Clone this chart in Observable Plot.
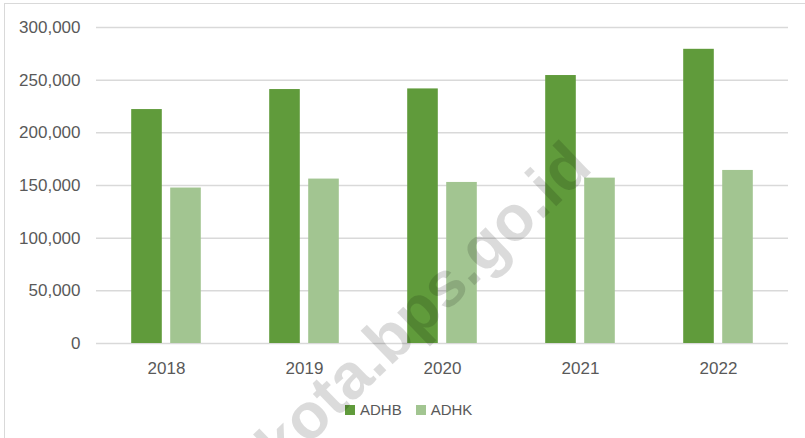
<!DOCTYPE html>
<html><head><meta charset="utf-8">
<script src="https://cdn.jsdelivr.net/npm/d3@7"></script>
<script src="https://cdn.jsdelivr.net/npm/@observablehq/plot@0.6"></script>
<style>
body{margin:0;background:#fff;font-family:"Liberation Sans",Arial,sans-serif;}
#wrap{position:relative;width:805px;height:438px;overflow:hidden;background:#fff;}
#box{position:absolute;left:4px;top:3px;width:820px;height:460px;border:1.5px solid #d9d9d9;box-sizing:border-box;}
#chart{position:absolute;left:0;top:0;}
#legend{position:absolute;left:345px;top:401px;display:flex;align-items:center;font-size:15px;color:#595959;}
#legend .item{display:flex;align-items:center;margin-right:14px;}
#legend .sw{width:10px;height:10px;margin-right:5px;}
#wm{position:absolute;left:0;top:0;pointer-events:none;}
</style>
</head><body>
<div id="wrap">
  <div id="box"></div>
  <div id="chart"></div>
  <div id="legend"></div>
  <svg id="wm" width="805" height="438"><text x="282" y="471" transform="rotate(-44 282 471)" font-family="Liberation Sans, Arial, sans-serif" font-weight="bold" font-size="64" fill="rgba(0,0,0,0.14)">kota.bps.go.id</text></svg>
</div>
<script>
const years = ["2018", "2019", "2020", "2021", "2022"];
const adhb = [222100, 241100, 241700, 254400, 279300];
const adhk = [147600, 156100, 152900, 157000, 164300];
const seriesNames = ["ADHB", "ADHK"];
const seriesColors = ["#609b3b", "#a2c591"];
const yTicks = [0, 50000, 100000, 150000, 200000, 250000, 300000];

const rowsB = years.map((y, i) => ({year: y, series: seriesNames[0], value: adhb[i]}));
const rowsK = years.map((y, i) => ({year: y, series: seriesNames[1], value: adhk[i]}));

const chart = Plot.plot({
  width: 805,
  height: 390,
  marginTop: 27,
  marginBottom: 47,
  marginLeft: 96,
  marginRight: 17,
  style: {fontFamily: "'Liberation Sans', Arial, sans-serif", fontSize: "17px", color: "#595959", background: "transparent"},
  x: {domain: years, padding: 0, label: null},
  y: {domain: [0, 300000], label: null},
  color: {domain: seriesNames, range: seriesColors},
  marks: [
    Plot.gridY(yTicks, {stroke: "#d9d9d9", strokeOpacity: 1, strokeWidth: 1.5}),
    Plot.barY(rowsB, {x: "year", y: "value", fill: "series", insetLeft: 34.2, insetRight: 73.2}),
    Plot.barY(rowsK, {x: "year", y: "value", fill: "series", insetLeft: 73.2, insetRight: 34.2}),
    Plot.axisY(yTicks, {tickSize: 0, tickPadding: 16, tickFormat: d3.format(","), fontSize: 17}),
    Plot.axisX({tickSize: 0, tickPadding: 18, fontSize: 17})
  ]
});
document.getElementById("chart").appendChild(chart);

const legend = document.getElementById("legend");
seriesNames.forEach((name, i) => {
  const it = document.createElement("div");
  it.className = "item";
  const sw = document.createElement("div");
  sw.className = "sw";
  sw.style.background = seriesColors[i];
  const t = document.createElement("span");
  t.textContent = name;
  it.appendChild(sw); it.appendChild(t);
  legend.appendChild(it);
});
</script>
</body></html>
